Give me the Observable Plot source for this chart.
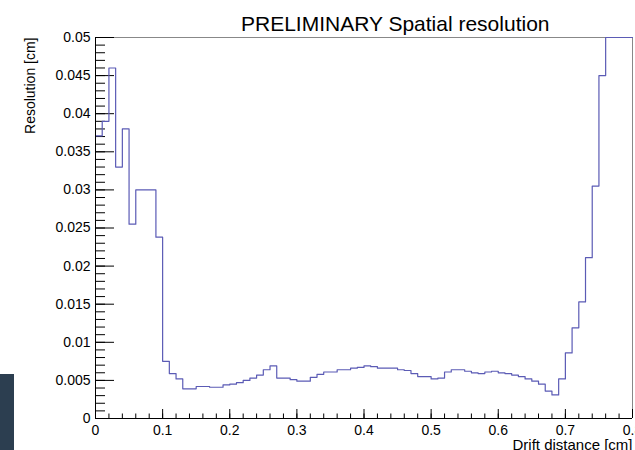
<!DOCTYPE html>
<html><head><meta charset="utf-8">
<script src="https://cdn.jsdelivr.net/npm/d3@7"></script>
<script src="https://cdn.jsdelivr.net/npm/@observablehq/plot@0.6"></script>
<style>
body{margin:0;background:#fff;font-family:"Liberation Sans",Arial,sans-serif;}
#chart{position:relative;width:635px;height:450px;overflow:hidden}
#badge{position:absolute;left:0;top:374px;width:14px;height:76px;background:#2c3e50}
</style></head><body><div id="chart"></div><div id="badge"></div><script>
const histTitle = "PRELIMINARY Spatial resolution";
const xTitle = "Drift distance [cm]";
const yTitle = "Resolution [cm]";
// histogram definition: 80 bins from 0 to 0.8 cm
const xMin = 0, xMax = 0.8, nBins = 80;
// bin contents (resolution in cm); the last bins are off scale
const resolution = [
  0.0371, 0.0390, 0.0460, 0.0330, 0.0380, 0.0255, 0.0300, 0.0300, 0.0300, 0.0238,
  0.0075, 0.0059, 0.0052, 0.0039, 0.0039, 0.0042, 0.0042, 0.0041, 0.0041, 0.0044,
  0.0045, 0.0047, 0.0050, 0.0053, 0.0057, 0.0064, 0.0069, 0.0053, 0.0053, 0.0051,
  0.0049, 0.0049, 0.0054, 0.0058, 0.0061, 0.0061, 0.0064, 0.0064, 0.0066, 0.0067,
  0.0069, 0.0068, 0.0066, 0.0066, 0.0066, 0.0064, 0.0063, 0.0059, 0.0055, 0.0055,
  0.0052, 0.0053, 0.0061, 0.0064, 0.0064, 0.0062, 0.0060, 0.0059, 0.0061, 0.0062,
  0.0060, 0.0059, 0.0057, 0.0055, 0.0052, 0.0049, 0.0045, 0.0036, 0.0031, 0.0052,
  0.0086, 0.0119, 0.0153, 0.0211, 0.0305, 0.0450, 0.0500, 0.0500, 0.0500, 0.0500
];
const xTickValues = [0, 0.1, 0.2, 0.3, 0.4, 0.5, 0.6, 0.7, 0.8];
const xTickLabels = ["0", "0.1", "0.2", "0.3", "0.4", "0.5", "0.6", "0.7", "0.8"];
const yTickValues = [0, 0.005, 0.01, 0.015, 0.02, 0.025, 0.03, 0.035, 0.04, 0.045, 0.05];
const yTickLabels = ["0", "0.005", "0.01", "0.015", "0.02", "0.025", "0.03", "0.035", "0.04", "0.045", "0.05"];

const W = 635, H = 450, mL = 95, mR = 3, mT = 37, mB = 32;
const plotW = W - mL - mR, plotH = H - mT - mB;
const binW = (xMax - xMin) / nBins;
const steps = resolution.map((v, i) => ({x: xMin + i * binW, y: v}));
steps.push({x: xMax, y: resolution[resolution.length - 1]});
const xMinor = d3.range(0, 80.5, 2).map(d => d / 100);
const yMinor = d3.range(0, 50.5, 1).map(d => d / 1000);
const lineColor = "#5b5bb5";

const chart = Plot.plot({
  width: W, height: H,
  marginLeft: mL, marginRight: mR, marginTop: mT, marginBottom: mB,
  x: {domain: [xMin, xMax], axis: null},
  y: {domain: [0, 0.05], axis: null},
  style: {fontFamily: "'Liberation Sans', Arial, sans-serif", background: "white", overflow: "visible", color: "black"},
  marks: [
    Plot.ruleY([0.05], {stroke: "#888", strokeWidth: 1}),
    Plot.ruleX([xMax], {stroke: "#888", strokeWidth: 1}),
    Plot.tickY(yMinor, {y: d => d, insetRight: plotW - 10, stroke: "#000", strokeWidth: 1}),
    Plot.tickY(yTickValues, {y: d => d, insetRight: plotW - 19, stroke: "#000", strokeWidth: 1}),
    Plot.tickX(xMinor, {x: d => d, insetTop: plotH - 4.5, stroke: "#000", strokeWidth: 1}),
    Plot.tickX(xTickValues, {x: d => d, insetTop: plotH - 9, stroke: "#000", strokeWidth: 1}),
    Plot.line(steps, {x: "x", y: "y", curve: "step-after", stroke: lineColor, strokeWidth: 1.2}),
    Plot.ruleX([xMin], {stroke: "#000", strokeWidth: 1}),
    Plot.ruleY([0], {stroke: "#000", strokeWidth: 1}),
    Plot.text(yTickValues, {y: d => d, text: (d, i) => yTickLabels[i], frameAnchor: "left", dx: -5, textAnchor: "end", fontSize: 14, fill: "#000"}),
    Plot.text(xTickValues, {x: d => d, text: (d, i) => xTickLabels[i], frameAnchor: "bottom", dy: 16, fontSize: 14, fill: "#000"}),
    Plot.text([histTitle], {text: d => d, frameAnchor: "top-right", textAnchor: "end", dx: -83, dy: -21, fontSize: 21, fill: "#000"}),
    Plot.text([xTitle], {text: d => d, frameAnchor: "bottom-right", textAnchor: "end", lineAnchor: "top", dy: 21, fontSize: 15, fill: "#000"}),
    Plot.text([yTitle], {text: d => d, frameAnchor: "top-left", rotate: -90, textAnchor: "end", dx: -70, fontSize: 14, fill: "#000"})
  ]
});
document.getElementById("chart").appendChild(chart);
</script></body></html>
